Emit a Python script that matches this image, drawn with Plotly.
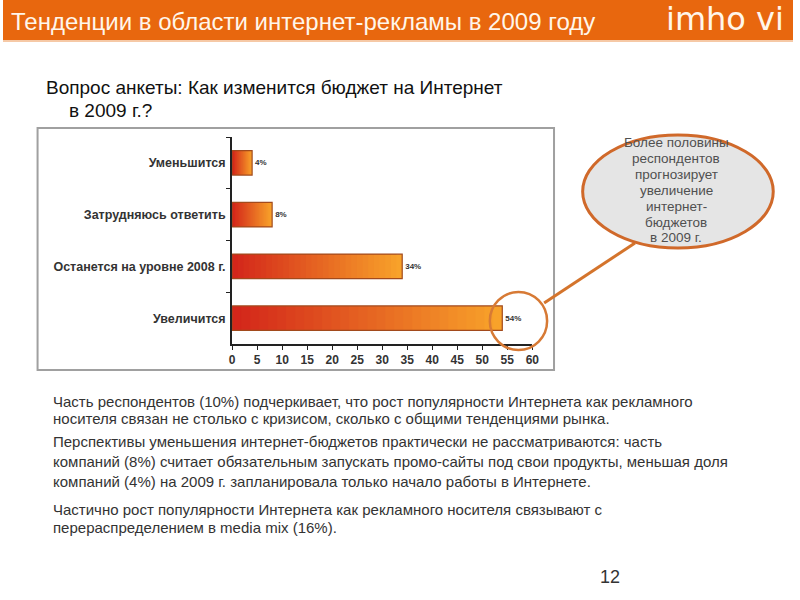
import plotly.graph_objects as go

# survey answers and shares (%)
categories = ["Уменьшится", "Затрудняюсь ответить", "Останется на уровне 2008 г.", "Увеличится"]
values = [4, 8, 34, 54]
value_labels = ["4%", "8%", "34%", "54%"]
x_ticks = [0, 5, 10, 15, 20, 25, 30, 35, 40, 45, 50, 55, 60]

title_text = "Тенденции в области интернет-рекламы в 2009 году"
question_lines = ["Вопрос анкеты: Как изменится бюджет на Интернет", "в 2009 г.?"]
callout_lines = ["Более половины", "респондентов", "прогнозирует", "увеличение", "интернет-", "бюджетов", "в 2009 г."]
body_lines = [
    "Часть респондентов (10%) подчеркивает, что рост популярности Интернета как рекламного",
    "носителя связан не столько с кризисом, сколько с общими тенденциями рынка.",
    "Перспективы уменьшения интернет-бюджетов практически не рассматриваются: часть",
    "компаний (8%) считает обязательным запускать промо-сайты под свои продукты, меньшая доля",
    "компаний (4%) на 2009 г. запланировала только начало работы в Интернете.",
    "Частично рост популярности Интернета как рекламного носителя связывают с",
    "перераспределением в media mix (16%).",
]
page_number = "12"

W, H = 800, 600
FONT = "Liberation Sans"
ORANGE = "#E8670E"


def px(x):
    return x / W


def py(y):
    return 1 - y / H


def mix(c1, c2, t):
    a = [int(c1[i:i + 2], 16) for i in (1, 3, 5)]
    b = [int(c2[i:i + 2], 16) for i in (1, 3, 5)]
    return "rgb(%d,%d,%d)" % tuple(round(a[j] + (b[j] - a[j]) * t) for j in range(3))


fig = go.Figure()

# gradient bars: longest (orange) first, shorter redder pieces on top
N = 30
for k in range(N, 0, -1):
    fig.add_trace(go.Bar(
        y=categories, x=[v * k / N for v in values], orientation="h",
        width=0.47, marker=dict(color=mix("#D3261A", "#F8A22A", (k - 1) / (N - 1)), line=dict(width=0)),
        hoverinfo="skip", showlegend=False,
    ))

# outline + value labels
fig.add_trace(go.Bar(
    y=categories, x=values, orientation="h", width=0.47,
    marker=dict(color="rgba(0,0,0,0)", line=dict(color="#A24A1C", width=1.2)),
    text=value_labels, textposition="outside", cliponaxis=False,
    textfont=dict(family=FONT, size=8, color="#333333", weight="bold"),
    showlegend=False,
))

fig.update_layout(
    autosize=True, margin=dict(l=0, r=0, t=0, b=0),
    paper_bgcolor="white", plot_bgcolor="white",
    barmode="overlay", showlegend=False,
    font=dict(family=FONT),
    xaxis=dict(
        domain=[px(232), px(536)], range=[0, 60], tickvals=x_ticks,
        showgrid=False, zeroline=False, showline=True, linecolor="#222222", linewidth=2,
        ticks="outside", ticklen=4, tickcolor="#222222",
        tickfont=dict(family=FONT, size=12, color="#333333", weight="bold"),
    ),
    yaxis=dict(
        domain=[py(344), py(137)], range=[3.5, -0.5], type="category",
        showgrid=False, zeroline=False, showline=True, linecolor="#222222", linewidth=2,
        ticks="outside", ticklen=4, tickcolor="#222222", tickson="boundaries",
        tickfont=dict(family=FONT, size=12.5, color="#333333", weight="bold"),
        ticklabelstandoff=2,
    ),
)

shapes = [
    # header band
    dict(type="rect", xref="paper", yref="paper", x0=0, x1=1, y0=py(40), y1=1,
         fillcolor=ORANGE, line=dict(width=0), layer="below"),
    dict(type="rect", xref="paper", yref="paper", x0=0, x1=1, y0=py(42), y1=py(40),
         fillcolor="#F6C9A6", line=dict(width=0), layer="below"),
    # chart frame
    dict(type="rect", xref="paper", yref="paper", x0=px(35), x1=px(558), y0=py(370), y1=py(128),
         line=dict(color="#A0A0A0", width=2), fillcolor="rgba(0,0,0,0)", layer="below"),
    # connector line
    dict(type="line", xref="paper", yref="paper", x0=px(548), y0=py(303), x1=px(640), y1=py(243),
         line=dict(color="#D4742C", width=3)),
    # callout ellipse
    dict(type="circle", xref="paper", yref="paper", x0=px(587), x1=px(780), y0=py(248), y1=py(135),
         fillcolor="#E5E5E5", line=dict(color="#D0692A", width=3)),
    # highlight circle around 54%
    dict(type="circle", xref="paper", yref="paper", x0=px(493), x1=px(551), y0=py(350), y1=py(292),
         fillcolor="rgba(0,0,0,0)", line=dict(color="#D77A35", width=2.5)),
]
fig.update_layout(shapes=shapes)

ann = [
    dict(text=title_text, x=px(6), y=py(21), xanchor="left", yanchor="middle",
         font=dict(family=FONT, size=24, color="#FFF6EA")),
    dict(text="imho vi", x=px(793), y=py(19), xanchor="right", yanchor="middle",
         font=dict(family="DejaVu Sans", size=32, color="#FFF6EA")),
    dict(text=question_lines[0], x=px(42), y=py(87), xanchor="left", yanchor="middle",
         font=dict(family=FONT, size=19, color="#111111")),
    dict(text=question_lines[1], x=px(65), y=py(110), xanchor="left", yanchor="middle",
         font=dict(family=FONT, size=19, color="#111111")),
    dict(text=page_number, x=px(615), y=py(577), xanchor="center", yanchor="middle",
         font=dict(family=FONT, size=18, color="#333333")),
]
for i, line in enumerate(callout_lines):
    ann.append(dict(text=line, x=px(682), y=py(143 + 15.8 * i), xanchor="center", yanchor="middle",
                    font=dict(family=FONT, size=13.5, color="#505050")))
body_y = [401, 418, 441, 461, 481, 509, 527]
for line, yy in zip(body_lines, body_y):
    ann.append(dict(text=line, x=px(49), y=py(yy), xanchor="left", yanchor="middle",
                    font=dict(family=FONT, size=15, color="#333333")))
for a in ann:
    a.update(xref="paper", yref="paper", showarrow=False)
fig.update_layout(annotations=ann)

fig.write_html(
    "out.html",
    config={"displayModeBar": False, "responsive": True},
    default_width="100vw", default_height="100vh",
    post_script="document.documentElement.style.overflow='hidden';"
                "document.body.style.margin='0';document.body.style.overflow='hidden';"
                "window.dispatchEvent(new Event('resize'));",
)
